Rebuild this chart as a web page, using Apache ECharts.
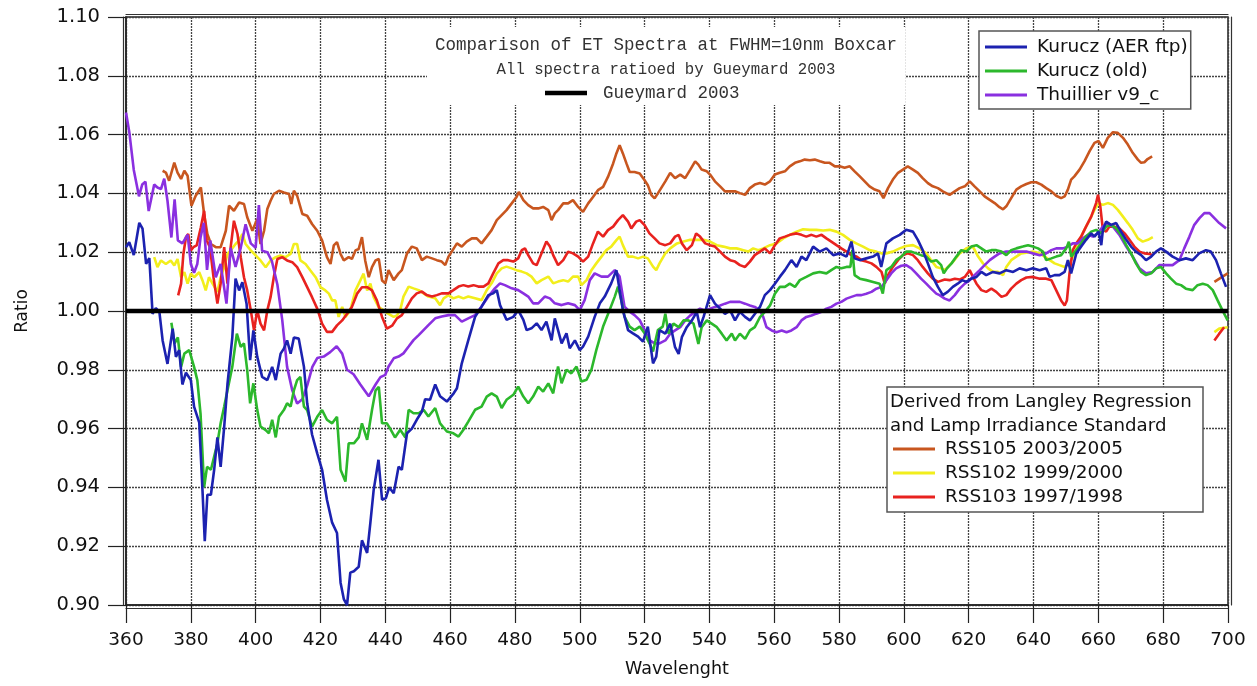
<!DOCTYPE html>
<html>
<head>
<meta charset="utf-8">
<script src="https://cdn.jsdelivr.net/npm/echarts@6/dist/echarts.min.js"></script>
<style>
  html, body { margin: 0; padding: 0; background: #fff; }
  #chart { width: 1257px; height: 686px; }
</style>
</head>
<body>
<div id="chart"></div>
<script>
// [wavelength nm, ratio to Gueymard 2003]
const kuruczAer = [
  [360,1.0217],[361,1.0234],[362.4,1.019],[364.1,1.030],[365.1,1.028],[366.2,1.016],[367.2,1.018],[368.2,0.999],[369.2,1.001],[370.3,0.9997],
  [371.3,0.990],[372.8,0.982],[374.4,0.994],[375.4,0.9844],[376.4,0.9867],[377.4,0.975],[378.5,0.979],[380,0.9765],[381,0.9675],[382.6,0.962],
  [383.6,0.939],[384.3,0.9217],[385.1,0.9375],[386.2,0.9375],[387.2,0.946],[388.2,0.957],[389.2,0.947],[390.3,0.9607],[391.3,0.975],[392.8,0.991],
  [393.8,1.011],[394.9,1.007],[395.9,1.0098],[397.2,1.0025],[398.3,0.9833],[399.3,0.9934],[400.5,0.9844],[402,0.9776],[403.6,0.9765],[405.1,0.981],
  [406.2,0.9765],[407.7,0.9855],[408.7,0.9872],[409.7,0.990],[410.8,0.9855],[411.8,0.991],[413.3,0.9906],[414.9,0.981],[415.9,0.9686],[417.4,0.958],
  [419,0.9516],[420.5,0.946],[422,0.9358],[423.6,0.928],[425.1,0.9245],[426.2,0.9076],[427.2,0.902],[428.2,0.900],[429.2,0.911],[430.3,0.9115],
  [431.8,0.913],[432.8,0.922],[434.4,0.9177],[435.4,0.928],[436.4,0.939],[437.9,0.9494],[439,0.9358],[440.2,0.9364],[441.2,0.940],[442.6,0.938],
  [444.1,0.947],[445.1,0.946],[446.7,0.9584],[448.2,0.960],[449.7,0.963],[451.3,0.9658],[452.3,0.970],[453.8,0.9698],[455.4,0.975],[456.9,0.971],
  [459,0.9692],[461.1,0.972],[462.1,0.9737],[463.6,0.9822],[465.6,0.990],[467.7,0.998],[469.7,1.0015],[471.8,1.0054],[473.3,1.006],[474.4,1.0071],
  [475.4,1.002],[477.4,0.997],[479.5,0.998],[481,1.0003],[482.6,0.997],[483.6,0.9935],[485.1,0.9941],[486.7,0.9958],[488.2,0.9935],[489.7,0.9964],
  [491.3,0.990],[492.3,0.9975],[493.3,0.9935],[494.4,0.989],[495.9,0.9924],[496.9,0.9873],[498.5,0.990],[500,0.9867],[501,0.9879],[502.6,0.9913],
  [504.6,0.998],[506.2,1.0026],[507.7,1.0049],[509.7,1.0094],[511.3,1.0139],[512.3,1.0071],[513.3,1.0003],[514.9,0.9935],[516.4,0.9924],[518,0.9913],
  [519.5,0.9896],[521,0.9947],[522.6,0.9822],[523.6,0.9845],[524.6,0.9935],[526.4,0.9923],[527.9,0.9957],[529.4,0.9877],[530.5,0.9854],[531.5,0.9911],
  [533,0.9945],[534.6,0.9968],[536.1,0.9997],[537.1,0.9945],[538.2,0.998],[540.2,1.0054],[541.7,1.0025],[543.3,1.0008],[544.8,0.999],[546.4,1.0002],
  [547.9,0.9968],[549.4,0.9997],[551,0.998],[552.5,0.9968],[554,0.999],[555.6,1.0014],[557.1,1.0054],[558.7,1.0071],[560.2,1.0093],[561.7,1.0116],
  [563.3,1.0139],[565.3,1.0173],[566.9,1.015],[568.4,1.0185],[569.9,1.0173],[572,1.0219],[574,1.0202],[576.1,1.0213],[578.2,1.019],[580.2,1.0196],
  [582.3,1.0185],[583.8,1.0236],[584.8,1.0179],[586.4,1.0173],[588.4,1.0179],[590.5,1.0185],[592,1.0196],[593,1.015],[594.6,1.023],[596.6,1.0247],
  [598.7,1.0259],[600.7,1.0276],[602.8,1.027],[604.3,1.0242],[605.8,1.0207],[607.4,1.0162],[608.9,1.0116],[610.5,1.0082],[612,1.0054],[613.5,1.0065],
  [615.1,1.0082],[616.6,1.0093],[618,1.0105],[619.3,1.0099],[620.8,1.011],[622.4,1.0116],[623.9,1.0133],[625.4,1.0122],[627.5,1.0133],[629.5,1.0128],
  [631.6,1.0139],[633.7,1.0133],[635.7,1.0145],[637.8,1.0139],[639.8,1.0145],[641.9,1.0139],[643.9,1.0145],[645,1.0116],[646.5,1.0122],[648,1.0122],
  [649.6,1.0133],[650.6,1.0173],[651.6,1.0128],[653.2,1.0196],[654.7,1.0219],[656.2,1.0242],[657.8,1.0264],[658.8,1.0253],[660.1,1.027],[660.9,1.0224],
  [661.4,1.0276],[662.4,1.0304],[663.9,1.0293],[665.5,1.0299],[667,1.027],[668.6,1.0242],[670.1,1.0219],[671.6,1.0202],[673.2,1.019],[674.7,1.0173],
  [676.3,1.0185],[677.8,1.0202],[679.3,1.0213],[680.9,1.0202],[682.9,1.0185],[685,1.0173],[687,1.0179],[689.1,1.0173],[691.1,1.0196],[693.2,1.0207],
  [694.7,1.0202],[696.3,1.0173],[697.8,1.0128],[699.4,1.0082]
];

const kuruczOld = [
  [374,0.996],[375,0.989],[376,0.991],[377,0.981],[378,0.9855],[379.5,0.9867],[381,0.981],[382,0.9765],[383,0.965],[384.1,0.940],
  [385,0.947],[386.2,0.946],[387.2,0.9505],[388.2,0.955],[389.2,0.9618],[390.3,0.9675],[391.3,0.973],[392.8,0.981],[394.2,0.9923],[395.4,0.9878],
  [396.4,0.989],[397.4,0.9799],[398.3,0.9686],[399.3,0.9754],[400.5,0.9663],[401.5,0.9607],[403.1,0.9595],[404.1,0.9584],[405.1,0.963],[406.2,0.957],
  [407.2,0.964],[408.7,0.9663],[409.7,0.9686],[410.8,0.9675],[411.8,0.973],[412.8,0.9765],[413.8,0.9776],[414.9,0.9675],[415.9,0.9663],[417.4,0.9607],
  [419,0.964],[420.5,0.9663],[422,0.963],[423.6,0.9618],[425.1,0.964],[426.2,0.946],[427.7,0.942],[428.7,0.955],[430.3,0.955],[431.8,0.957],
  [432.8,0.9618],[434.4,0.9562],[435.9,0.9663],[437,0.973],[438,0.9742],[439,0.9618],[440.5,0.9618],[441.5,0.960],[443,0.957],[444.6,0.9596],
  [446.2,0.957],[447.2,0.9664],[448.7,0.9652],[450.3,0.9652],[451.8,0.9664],[453.3,0.9641],[455.4,0.967],[456.9,0.9618],[459,0.959],[461,0.9584],
  [462.6,0.9573],[464.1,0.9596],[465.6,0.9624],[467.7,0.9664],[469.7,0.9675],[471.3,0.9709],[472.8,0.972],[474.4,0.9709],[475.9,0.967],[477.4,0.9698],
  [479.5,0.9715],[481,0.9743],[482.6,0.9709],[484.1,0.9686],[485.6,0.9709],[487.2,0.9743],[488.7,0.9726],[490.3,0.9754],[491.8,0.972],[493.3,0.9811],
  [494.4,0.9754],[495.9,0.980],[497.4,0.9788],[499,0.9811],[500.5,0.976],[502.1,0.9766],[503.6,0.980],[505.1,0.9867],[507.2,0.9947],[509.2,1.0003],
  [510.8,1.0049],[511.8,1.0083],[512.8,1.0037],[513.8,0.9981],[515.4,0.9947],[516.9,0.9935],[518.5,0.9947],[520,0.9924],[521.5,0.989],[522.6,0.9862],
  [524.1,0.9935],[525.6,0.9947],[526.4,0.9991],[527.4,0.9923],[528.9,0.9957],[530.5,0.9945],[532,0.9968],[533.5,0.9968],[535.1,0.9957],[536.6,0.9888],
  [537.6,0.9945],[539.2,0.9968],[540.7,0.9957],[542.3,0.9945],[543.8,0.9923],[545.3,0.990],[546.9,0.9923],[547.9,0.990],[549.4,0.9923],[551,0.9905],
  [552.5,0.9934],[554,0.9945],[555.6,0.9979],[557.1,0.9997],[558.7,1.0019],[560.2,1.0059],[561.7,1.0082],[563.3,1.0082],[564.8,1.0093],[566.4,1.0082],
  [567.9,1.0105],[569.9,1.0116],[572,1.0128],[574,1.0133],[576.1,1.0128],[577.6,1.0139],[579.2,1.015],[580.7,1.0145],[582.3,1.015],[583.5,1.015],
  [584.1,1.0207],[584.8,1.0122],[586.4,1.011],[588.4,1.0105],[590.5,1.0099],[592.5,1.0093],[593.5,1.0059],[594.6,1.0139],[596.1,1.015],[597.6,1.0173],
  [599.2,1.0185],[600.7,1.0202],[602.3,1.0202],[603.8,1.0196],[605.3,1.019],[606.9,1.0185],[608.4,1.0168],[610,1.0173],[611.5,1.0156],[612.3,1.0128],
  [613.3,1.0145],[614.7,1.0162],[616.2,1.0185],[617.7,1.0207],[619.3,1.0202],[620.8,1.0219],[622.4,1.0224],[623.9,1.0213],[625.4,1.0202],[627,1.0207],
  [628.5,1.0207],[630.1,1.0202],[631.6,1.019],[633.1,1.0207],[634.7,1.0213],[636.7,1.0219],[638.3,1.0224],[639.8,1.0219],[641.4,1.0213],[642.9,1.0202],
  [643.9,1.0173],[645.5,1.0179],[647,1.0185],[648.5,1.019],[650.1,1.0213],[650.9,1.0236],[651.6,1.0185],[653.2,1.0207],[654.7,1.023],[656.2,1.0253],
  [657.8,1.027],[659.3,1.0276],[660.9,1.0264],[662.4,1.0287],[663.9,1.0293],[665.5,1.0281],[667,1.0259],[668.6,1.0224],[670.1,1.0196],[671.6,1.0162],
  [673.2,1.0133],[674.7,1.0122],[676.3,1.0128],[677.8,1.0145],[679.3,1.015],[680.9,1.0128],[682.4,1.011],[684,1.0093],[685.5,1.0088],[687,1.0076],
  [689.1,1.0071],[690.6,1.0088],[692.2,1.0093],[693.7,1.0088],[695.3,1.0071],[696.8,1.0036],[698.3,1.0002],[699.9,0.9968]
];

const thuillier = [
  [360,1.0675],[361,1.061],[362.4,1.048],[364,1.039],[365,1.043],[366,1.044],[367,1.034],[368.7,1.043],[369.7,1.042],[370.8,1.0415],
  [371.8,1.045],[372.8,1.0375],[374,1.025],[375,1.038],[376,1.024],[377.4,1.023],[379,1.026],[380,1.016],[381,1.013],[382,1.016],
  [383,1.025],[384,1.030],[385,1.014],[386,1.024],[387.7,1.0115],[389.2,1.016],[391,1.0025],[392.3,1.0215],[393.8,1.015],[395.4,1.0215],
  [396.9,1.0295],[398.5,1.023],[400,1.0215],[401,1.036],[402,1.0205],[403.6,1.020],[405,1.017],[406.7,1.009],[408.2,0.997],[409.7,0.981],
  [411.3,0.973],[412.8,0.9685],[414.4,0.970],[416,0.975],[417.5,0.981],[419,0.984],[421,0.9845],[423,0.986],[425,0.988],[426.7,0.9855],
  [428.2,0.980],[430.2,0.9785],[432.3,0.975],[434.9,0.971],[437,0.975],[438.5,0.9775],[440,0.9783],[441,0.9811],[442.6,0.9839],[444.1,0.9845],
  [445.6,0.9856],[447.2,0.9879],[448.7,0.9901],[450.3,0.9918],[451.8,0.9935],[453.3,0.9952],[455.4,0.9975],[457.4,0.9981],[459.5,0.9986],[461.5,0.9986],
  [463.6,0.9964],[465.6,0.9975],[467.7,0.9986],[469.7,1.0015],[471.8,1.0049],[473.8,1.0077],[475.4,1.0094],[476.9,1.0088],[479,1.0077],[481,1.0071],
  [482.6,1.006],[484.1,1.0049],[485.6,1.0026],[487.2,1.0026],[489.2,1.0049],[490.8,1.0043],[492.3,1.0026],[494.4,1.002],[496.4,1.0026],[498.5,1.002],
  [500,1.0003],[501.5,1.0037],[503.1,1.0105],[504.6,1.0128],[506.7,1.0117],[508.7,1.0117],[510.8,1.0139],[512.3,1.0117],[513.8,1.0015],[515.4,0.9998],
  [516.9,0.9986],[518.5,0.9969],[520,0.9935],[521.5,0.9901],[523.1,0.989],[524.6,0.989],[526.4,0.990],[527.9,0.9923],[529.4,0.9934],[531,0.9945],
  [532.5,0.9968],[534.1,0.9985],[535.6,0.9997],[537.1,1.0008],[538.7,1.0002],[540.2,1.0008],[541.7,1.0014],[543.3,1.0019],[544.8,1.0025],[546.4,1.0031],
  [547.9,1.0031],[549.4,1.0031],[551,1.0025],[552.5,1.0019],[554,1.0014],[555.6,1.0002],[556.6,0.998],[557.6,0.9945],[559.2,0.9934],[560.7,0.9928],
  [562.3,0.9934],[563.8,0.9928],[565.3,0.9934],[566.9,0.9945],[568.4,0.9968],[569.9,0.998],[571.5,0.9985],[573,0.9991],[574.6,0.9997],[576.1,1.0008],
  [577.6,1.0014],[579.2,1.0025],[580.7,1.0031],[582.3,1.0042],[583.8,1.0048],[585.4,1.0054],[586.9,1.0054],[588.4,1.0059],[590,1.0065],[591.5,1.0076],
  [593.1,1.0082],[594.6,1.0105],[596.1,1.0128],[597.6,1.0145],[599.2,1.0154],[600.7,1.0156],[602.3,1.0145],[603.8,1.0128],[605.3,1.011],[606.9,1.0093],
  [608.4,1.0076],[610,1.0059],[611,1.0054],[612.6,1.0042],[614.1,1.0036],[615.7,1.0054],[617.2,1.0076],[618.8,1.0093],[620.3,1.0105],[621.8,1.0122],
  [623.4,1.0139],[624.9,1.0156],[626.5,1.0173],[628,1.0185],[629.5,1.0196],[631.6,1.0202],[633.7,1.0202],[635.7,1.0202],[637.8,1.0202],[639.8,1.0196],
  [641.9,1.019],[643.9,1.0196],[645.5,1.0207],[647,1.0213],[649.1,1.0213],[650.6,1.0219],[652.1,1.023],[653.7,1.023],[655.2,1.0247],[656.8,1.0259],
  [658.3,1.0253],[659.8,1.0264],[661.4,1.0287],[662.9,1.0299],[664.5,1.0287],[666.5,1.0259],[668.6,1.0219],[670.6,1.0185],[672.7,1.0145],[674.7,1.0128],
  [676.8,1.0133],[678.8,1.0156],[680.9,1.0156],[682.9,1.0156],[685,1.0173],[686.5,1.0213],[688.1,1.0253],[689.6,1.0293],[691.2,1.0316],[692.7,1.0333],
  [694.3,1.0333],[695.8,1.0316],[697.3,1.0299],[699.4,1.0281]
];

const rss105 = [
  [371.3,1.0477],[372.3,1.0471],[373.3,1.0443],[374.9,1.0505],[375.9,1.0471],[377,1.0449],[378,1.0477],[379,1.046],[380.2,1.0358],[381.5,1.0392],
  [383.1,1.042],[384.1,1.033],[385.1,1.0262],[386.2,1.0228],[387.7,1.0217],[389.2,1.0217],[390.8,1.0273],[391.8,1.0358],[393.3,1.0341],[394.9,1.0369],
  [396.4,1.0364],[397.4,1.0319],[399,1.0273],[400.5,1.0313],[401.5,1.0228],[402.6,1.0273],[403.6,1.0347],[404.6,1.0375],[405.6,1.0398],[407.2,1.0409],
  [408.7,1.0403],[410.3,1.0398],[411,1.0364],[411.8,1.0409],[412.8,1.0392],[414.4,1.033],[415.9,1.0324],[417.4,1.0296],[419,1.0273],[420.5,1.024],
  [422,1.0183],[423.1,1.016],[424.1,1.0223],[425.1,1.0234],[426.2,1.0194],[427.2,1.0172],[428.7,1.0183],[429.7,1.0177],[430.8,1.0206],[431.8,1.0211],
  [432.8,1.0251],[433.8,1.0172],[434.9,1.0115],[435.9,1.0149],[437,1.0172],[438,1.0177],[439,1.0104],[440,1.0094],[441,1.0139],[442.6,1.0105],
  [444.1,1.0128],[445.1,1.0139],[446.7,1.0196],[448.2,1.0219],[449.7,1.0213],[451.3,1.0173],[452.8,1.0185],[454.4,1.0179],[455.9,1.0173],[457.4,1.0168],
  [458.5,1.0156],[459.5,1.0185],[460.5,1.0202],[462.1,1.023],[463.6,1.0219],[465.1,1.0236],[466.7,1.0247],[468.2,1.0247],[469.7,1.023],[471.3,1.0253],
  [472.8,1.0275],[474.4,1.0309],[475.9,1.0326],[477.4,1.0343],[479,1.0366],[480.5,1.0388],[481.2,1.0405],[482.6,1.0377],[484.1,1.036],[485.6,1.0349],
  [487.2,1.0349],[488.7,1.0354],[490.3,1.0343],[491.3,1.0309],[492.3,1.0332],[493.3,1.0343],[494.9,1.0366],[496.4,1.0366],[497.9,1.0377],[499.5,1.0354],
  [501,1.0337],[502.6,1.0366],[504.1,1.0388],[505.6,1.0411],[507.2,1.0422],[508.7,1.0456],[510.3,1.0502],[511.3,1.0536],[512.3,1.0564],[513.3,1.0536],
  [514.4,1.0502],[515.4,1.0473],[516.9,1.0473],[518.5,1.0468],[520,1.0445],[521,1.0428],[522.1,1.0394],[523.1,1.0383],[524.1,1.040],[526.4,1.0441],
  [527.9,1.047],[529.4,1.0452],[531,1.0464],[532.5,1.0452],[534.1,1.0481],[535.6,1.0509],[536.6,1.0498],[537.6,1.0481],[539.2,1.0475],[540.2,1.0464],
  [541.7,1.0441],[543.3,1.0424],[544.8,1.0407],[546.4,1.0407],[547.9,1.0407],[549.4,1.0401],[551,1.0395],[552.5,1.0418],[554,1.043],[555.6,1.0435],
  [557.1,1.043],[558.7,1.0441],[560.2,1.0464],[561.7,1.047],[563.3,1.0475],[564.8,1.0492],[566.4,1.0504],[567.9,1.0509],[569.4,1.0515],[571,1.0513],
  [572.5,1.0515],[574.1,1.0509],[575.6,1.0504],[577.1,1.0504],[578.7,1.0492],[580.2,1.0492],[581.7,1.0487],[583.3,1.0492],[584.8,1.0475],[586.4,1.0458],
  [587.9,1.0441],[589.4,1.0424],[591,1.0413],[592.5,1.0407],[593.7,1.0384],[595.1,1.0418],[596.6,1.0447],[598.2,1.047],[599.7,1.0481],[601.2,1.0492],
  [602.8,1.0481],[604.3,1.047],[605.8,1.0452],[607.4,1.0435],[608.9,1.0424],[610.5,1.0418],[612,1.0407],[614.1,1.0395],[615.7,1.0407],[617.2,1.0418],
  [618.8,1.0424],[620.3,1.0441],[621.8,1.0424],[623.4,1.0407],[624.9,1.039],[626.5,1.0378],[628,1.0367],[629.5,1.0353],[630.6,1.0346],[631.6,1.0356],
  [633.1,1.0384],[634.7,1.0413],[636.2,1.0424],[637.8,1.0432],[639.3,1.0438],[640.8,1.0438],[642.4,1.043],[643.9,1.0418],[645.5,1.0407],[647,1.0392],
  [648.5,1.0384],[649.6,1.039],[650.6,1.0413],[651.6,1.0447],[652.6,1.0458],[654.2,1.0481],[655.7,1.0509],[657.3,1.0544],[658.8,1.0572],[660.1,1.0578],
  [661.4,1.0555],[662.9,1.0589],[664.5,1.0608],[666,1.0606],[667.6,1.0589],[669.1,1.0566],[670.6,1.0538],[672.2,1.0515],[673.2,1.0504],[674.2,1.0506],
  [675.2,1.0517],[676.6,1.0526],[686,null],[695.8,1.0099],[699.9,1.0128]
];

const rss102 = [
  [368.7,1.0183],[369.7,1.0149],[370.8,1.0172],[372.3,1.016],[373.8,1.0172],[374.9,1.0155],[375.9,1.0177],[377,1.0115],[378,1.0132],[379,1.0093],
  [380,1.0127],[381,1.0115],[382.6,1.0132],[383.6,1.0104],[384.6,1.007],[385.6,1.0115],[386.7,1.0093],[388.2,1.0065],[389.2,1.0115],[390.3,1.0149],
  [391.3,1.0194],[392.3,1.0206],[393.8,1.0228],[394.9,1.024],[395.9,1.0262],[396.9,1.0228],[398.5,1.0206],[400,1.0189],[401.5,1.0172],[403.1,1.0149],
  [404.6,1.0172],[406.2,1.0183],[407.7,1.0189],[409.2,1.0183],[410.8,1.0194],[411.8,1.0228],[412.8,1.0228],[413.8,1.0172],[415.4,1.016],[416.9,1.0138],
  [418.5,1.0115],[420,1.0081],[421.5,1.007],[422.6,1.0059],[423.6,1.0036],[424.6,1.0036],[425.6,0.998],[426.7,1.0014],[427.7,0.998],[429.2,1.0002],
  [430.8,1.007],[432.3,1.0104],[433.3,1.0127],[434.4,1.007],[435.4,1.0093],[436.4,1.0047],[437.9,1.0014],[439.5,1.0002],[441,0.999],[442.6,0.998],
  [443.6,0.9985],[444.6,1.0003],[445.6,1.0049],[447.2,1.0083],[448.7,1.0077],[450.3,1.0071],[451.8,1.006],[453.3,1.0049],[455.4,1.0043],[456.9,1.002],
  [458,1.0043],[459.5,1.0054],[461,1.0043],[462.6,1.0049],[464.1,1.0043],[465.6,1.0049],[467.7,1.0043],[469.7,1.0037],[471.3,1.0071],[472.8,1.0094],
  [474.4,1.0128],[475.9,1.0145],[477.4,1.0151],[479,1.0145],[480.5,1.0139],[482.1,1.0134],[483.6,1.0128],[485.1,1.0117],[486.7,1.0094],[488.2,1.0105],
  [490.3,1.0117],[491.8,1.0094],[493.3,1.010],[494.9,1.0105],[496.4,1.010],[497.9,1.0117],[499.5,1.0117],[500.5,1.0088],[502.1,1.0105],[503.6,1.0139],
  [505.1,1.0162],[506.7,1.0185],[508.2,1.0207],[509.7,1.0219],[511.3,1.0241],[512.3,1.0253],[513.3,1.0224],[514.9,1.0185],[516.4,1.0185],[518,1.0179],
  [519.5,1.0185],[521,1.0179],[522.6,1.0151],[523.6,1.0139],[524.6,1.0162],[526.4,1.0196],[527.9,1.0213],[530,1.023],[532,1.0236],[534.1,1.0242],
  [536.1,1.0242],[538.2,1.0242],[540.2,1.0236],[542.3,1.0224],[544.3,1.0219],[546.4,1.0213],[548.4,1.0213],[550.5,1.0207],[552,1.0202],[553.5,1.0213],
  [555.1,1.0207],[556.6,1.0213],[558.7,1.0224],[560.7,1.023],[562.8,1.0247],[564.8,1.0259],[566.9,1.027],[568.9,1.0278],[571,1.0276],[573,1.0276],
  [575.1,1.0274],[577.1,1.0276],[579.2,1.027],[581.2,1.0259],[583.3,1.0242],[585.3,1.023],[587.4,1.0219],[589.4,1.0207],[591.5,1.0202],[593,1.0196],
  [594.6,1.0196],[596.6,1.0202],[598.7,1.0213],[600.7,1.0221],[602.8,1.0224],[604.8,1.0213],[606.9,1.0196],[608.4,1.0173],[610,1.015],[611.5,1.0145],
  [612.6,1.0139],[613.6,1.015],[615.2,1.0168],[617.2,1.0196],[619.3,1.0213],[621.3,1.0219],[622.9,1.0185],[624.4,1.0162],[626,1.0145],[627.5,1.0133],
  [629,1.0133],[630.6,1.0122],[631.6,1.015],[633.1,1.0173],[634.7,1.0185],[636.2,1.0196],[637.8,1.0198],[639.8,1.0202],[641.9,1.0196],[643.4,1.0185],
  [645,1.0173],[646.5,1.0162],[648,1.0156],[649.6,1.015],[651.1,1.0162],[652.6,1.0196],[654.2,1.0242],[655.7,1.0276],[657.3,1.031],[658.8,1.0344],
  [660.1,1.0367],[661.4,1.0361],[662.9,1.0367],[664.5,1.0361],[666,1.0344],[667.6,1.0321],[669.1,1.0299],[670.6,1.0276],[672.2,1.0247],[673.7,1.0236],
  [675.3,1.0242],[676.8,1.0251],[686,null],[695.8,0.9928],[697.3,0.994],[699.9,0.9945]
];

const rss103 = [
  [376.1,1.0053],[377,1.0093],[377.7,1.0194],[378.5,1.0251],[379.2,1.0262],[380,1.0206],[380.8,1.0217],[381.8,1.0223],[383.1,1.0285],[384.1,1.0341],
  [384.9,1.024],[385.9,1.0217],[387,1.0115],[388.2,1.0025],[389.2,1.0093],[390.3,1.0217],[391.3,1.0093],[392.3,1.0217],[393.3,1.0307],[394.4,1.0262],
  [395.4,1.0183],[396.4,1.0115],[397.4,1.007],[398.5,1.0002],[399.5,0.9934],[400.5,1.0002],[401.5,0.9957],[402.6,0.9934],[403.6,1.0002],[404.6,1.0047],
  [405.6,1.0115],[406.7,1.0177],[408.2,1.0183],[409.7,1.0172],[411.3,1.0166],[412.8,1.0149],[414.4,1.0115],[415.9,1.0081],[417.4,1.0047],[419,1.0008],
  [420.5,0.9957],[422,0.9929],[423.6,0.9929],[425.1,0.9951],[426.7,0.9968],[428.2,0.9991],[429.7,1.0014],[431.3,1.0059],[432.8,1.0081],[434.4,1.0081],
  [435.9,1.007],[437.4,1.0036],[439,0.998],[440.5,0.994],[442.1,0.995],[443.6,0.9975],[445.1,0.9986],[446.7,1.0015],[448.2,1.0043],[449.7,1.006],
  [451.3,1.0066],[452.8,1.0054],[454.4,1.0049],[455.9,1.0054],[457.4,1.006],[459.5,1.006],[461,1.0071],[462.6,1.0083],[464.1,1.0088],[465.6,1.0083],
  [467.2,1.0088],[468.7,1.0083],[470.3,1.0083],[471.8,1.0094],[473.3,1.0128],[474.9,1.0162],[476.4,1.0173],[477.9,1.0173],[479.5,1.0168],[481,1.0179],
  [482.1,1.0207],[483.1,1.0213],[484.1,1.019],[485.6,1.0162],[486.7,1.0156],[488.2,1.0196],[489.7,1.0236],[490.8,1.0219],[491.8,1.019],[493.3,1.0156],
  [494.9,1.0173],[496.4,1.0202],[497.9,1.0196],[499.5,1.0185],[501,1.0168],[502.6,1.0185],[504.1,1.023],[505.6,1.027],[507.2,1.0253],[508.7,1.0275],
  [510.3,1.0287],[511.8,1.0309],[513.3,1.0326],[514.9,1.0304],[515.9,1.0281],[517.4,1.0304],[518.5,1.0309],[520,1.0292],[521.5,1.0264],[523.1,1.0247],
  [524.6,1.023],[526.4,1.0224],[527.9,1.023],[529.4,1.0253],[530.5,1.0259],[531.5,1.023],[533,1.0207],[534.6,1.0224],[535.9,1.0264],[537.1,1.0253],
  [538.7,1.023],[540.2,1.0224],[541.7,1.0219],[543.3,1.0202],[544.8,1.0185],[546.4,1.0173],[547.9,1.0168],[549.4,1.0156],[551,1.015],[552.5,1.0168],
  [554,1.019],[555.6,1.0202],[557.1,1.0213],[558.7,1.0196],[560.2,1.0224],[561.7,1.0247],[563.3,1.0253],[564.8,1.0259],[566.9,1.0264],[568.4,1.0259],
  [569.9,1.0253],[571.5,1.0259],[573,1.0253],[574.6,1.0259],[576.1,1.0247],[577.6,1.0236],[579.2,1.0224],[580.7,1.0213],[582.3,1.0202],[583.8,1.019],
  [585.4,1.0185],[586.9,1.0173],[588.4,1.0168],[590,1.0162],[591.5,1.015],[593.1,1.0133],[594.1,1.0093],[595.1,1.0122],[596.6,1.015],[598.2,1.0173],
  [599.7,1.019],[601.2,1.0196],[602.8,1.019],[604.3,1.0173],[605.8,1.015],[607.4,1.0128],[608.9,1.011],[610.5,1.0099],[612.6,1.0107],[614.1,1.0105],
  [615.7,1.011],[617.2,1.0107],[618.8,1.0116],[620.3,1.0139],[621.3,1.0116],[622.4,1.0093],[623.9,1.0071],[625.4,1.0065],[627,1.0076],[628.5,1.0065],
  [630.1,1.0048],[631.6,1.0054],[633.1,1.0076],[634.7,1.0093],[636.2,1.0105],[637.8,1.0114],[639.8,1.0116],[641.9,1.011],[643.9,1.011],[645.5,1.0105],
  [646.5,1.0082],[647.5,1.0059],[648.5,1.0036],[649.6,1.0019],[650.3,1.0036],[651.1,1.0128],[652.1,1.0207],[653.2,1.023],[654.7,1.0253],[656.2,1.0287],
  [657.8,1.0321],[659.3,1.0367],[659.9,1.0395],[660.6,1.0356],[661.4,1.0276],[662.4,1.027],[663.4,1.0287],[665,1.0287],[666.5,1.0281],[668.1,1.0264],
  [669.6,1.0242],[671.1,1.0219],[672.7,1.0202],[674.2,1.0196],[675.8,1.0194],[676.8,1.019],[686,null],[695.8,0.990],[697.3,0.9923],[698.8,0.9945]
];

const gueymard = [[360,1.0],[700,1.0]];

const FONT = "'DejaVu Sans', sans-serif";
const MONO = "'Liberation Mono', 'DejaVu Sans Mono', monospace";
const GRID_LINE = { color: "#444", width: 1.3, type: [2, 1] };

const line = (name, data, color, width, z) => ({
  name,
  type: "line",
  data,
  symbol: "none",
  z,
  silent: true,
  connectNulls: false,
  itemStyle: { color },
  lineStyle: { color, width },
  emphasis: { disabled: true },
});

// second, slightly offset frame line around the plot
const frameAxis = (position) => ({
  type: "value",
  min: position === "left" || position === "right" ? 0.9 : 360,
  max: position === "left" || position === "right" ? 1.1 : 700,
  position,
  offset: 3,
  axisLine: { show: true, lineStyle: { color: "#333", width: 1.2 } },
  axisTick: { show: false },
  axisLabel: { show: false },
  splitLine: { show: false },
});

const chart = echarts.init(document.getElementById("chart"), null, { renderer: "canvas" });

chart.setOption({
  animation: false,
  backgroundColor: "#fff",
  grid: {
    left: 126,
    right: 29,
    top: 17,
    bottom: 81,
    show: true,
    borderColor: "#222",
    borderWidth: 1.5,
  },
  title: [
    {
      text: "Comparison of ET Spectra at FWHM=10nm Boxcar",
      subtext: "All spectra ratioed by Gueymard 2003",
      left: 658,
      top: 27,
      textAlign: "center",
      padding: [8, 8, 26, 8],
      itemGap: 6,
      backgroundColor: "#fff",
      textStyle: { fontFamily: MONO, fontSize: 17.5, fontWeight: "normal", color: "#333", lineHeight: 20 },
      subtextStyle: { fontFamily: MONO, fontSize: 15.7, color: "#333", lineHeight: 18 },
    },
    {
      text: "Derived from Langley Regression\nand Lamp Irradiance Standard",
      left: 890,
      top: 390,
      padding: 0,
      textStyle: { fontFamily: FONT, fontSize: 18.2, fontWeight: "normal", color: "#111", lineHeight: 24 },
    },
  ],
  legend: [
    {
      data: ["Kurucz (AER ftp)", "Kurucz (old)", "Thuillier v9_c"],
      orient: "vertical",
      left: 979,
      top: 31,
      padding: [6, 3, 4, 6],
      itemGap: 4,
      itemWidth: 42,
      itemHeight: 3,
      icon: "rect",
      selectedMode: false,
      backgroundColor: "#fff",
      borderColor: "#555",
      borderWidth: 1.5,
      itemStyle: { borderWidth: 0 },
      textStyle: { fontFamily: FONT, fontSize: 18.5, color: "#111", lineHeight: 20, padding: [0, 0, 0, 5] },
    },
    {
      data: ["RSS105 2003/2005", "RSS102 1999/2000", "RSS103 1997/1998"],
      orient: "vertical",
      left: 887,
      top: 387,
      padding: [52, 3, 5, 6],
      itemGap: 4,
      itemWidth: 42,
      itemHeight: 3,
      icon: "rect",
      selectedMode: false,
      backgroundColor: "#fff",
      borderColor: "#555",
      borderWidth: 1.5,
      itemStyle: { borderWidth: 0 },
      textStyle: { fontFamily: FONT, fontSize: 18.5, color: "#111", lineHeight: 20, width: 255, padding: [0, 0, 0, 5] },
    },
    {
      data: ["Gueymard 2003"],
      left: 545,
      top: 83,
      padding: 0,
      z: 10,
      itemWidth: 42,
      itemHeight: 4.5,
      icon: "rect",
      selectedMode: false,
      itemStyle: { borderWidth: 0 },
      textStyle: { fontFamily: MONO, fontSize: 17.5, color: "#333", lineHeight: 20, padding: [0, 0, 0, 11] },
    },
  ],
  xAxis: [
    {
      type: "value",
      min: 360,
      max: 700,
      interval: 20,
      name: "Wavelenght",
      nameLocation: "middle",
      nameGap: 55,
      nameTextStyle: { fontFamily: FONT, fontSize: 17.5, color: "#111" },
      axisLine: { show: true, onZero: false, lineStyle: { color: "#222", width: 1.5 } },
      axisTick: { show: true, length: 18, lineStyle: { color: "#222", width: 1.2 } },
      axisLabel: { fontFamily: FONT, fontSize: 18.5, color: "#111", margin: 26 },
      splitLine: { show: true, lineStyle: GRID_LINE },
    },
    frameAxis("bottom"),
    frameAxis("top"),
  ],
  yAxis: [
    {
      type: "value",
      min: 0.9,
      max: 1.1,
      interval: 0.02,
      name: "Ratio",
      nameLocation: "middle",
      nameGap: 95,
      nameTextStyle: { fontFamily: FONT, fontSize: 17, color: "#111" },
      axisLine: { show: true, lineStyle: { color: "#222", width: 1.5 } },
      axisTick: { show: true, length: 18, lineStyle: { color: "#222", width: 1.2 } },
      axisLabel: {
        fontFamily: FONT,
        fontSize: 19.5,
        color: "#111",
        margin: 26,
        formatter: (v) => v.toFixed(2),
      },
      splitLine: { show: true, lineStyle: GRID_LINE },
    },
    frameAxis("left"),
    frameAxis("right"),
  ],
  series: [
    line("RSS105 2003/2005", rss105, "#c8561f", 2.6, 2),
    line("RSS102 1999/2000", rss102, "#f2ee1c", 2.6, 2),
    line("RSS103 1997/1998", rss103, "#e8221f", 2.6, 2),
    line("Thuillier v9_c", thuillier, "#8a30e0", 2.6, 2),
    line("Kurucz (old)", kuruczOld, "#2cb82c", 2.6, 2),
    line("Kurucz (AER ftp)", kuruczAer, "#1c22b0", 2.6, 2),
    line("Gueymard 2003", gueymard, "#000000", 4.5, 3),
  ],
});
</script>
</body>
</html>
